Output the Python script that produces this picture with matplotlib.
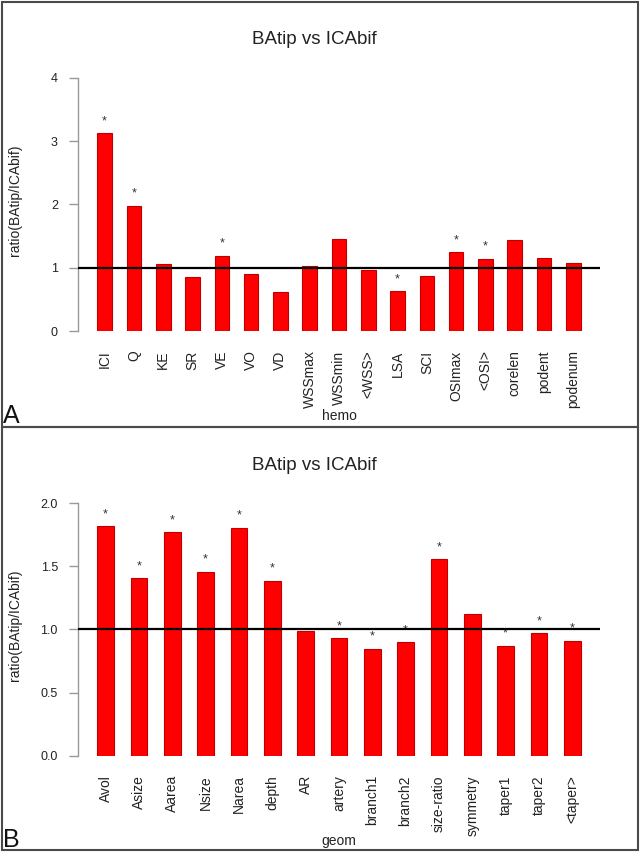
import matplotlib
matplotlib.use("Agg")
import matplotlib.pyplot as plt
from matplotlib.patches import Rectangle

plt.rcParams['font.family'] = ['Liberation Sans', 'DejaVu Sans']

# Panel A data
hemo_labels = ["ICI", "Q", "KE", "SR", "VE", "VO", "VD", "WSSmax", "WSSmin",
               "<WSS>", "LSA", "SCI", "OSImax", "<OSI>", "corelen", "podent", "podenum"]
hemo_values = [3.12, 1.98, 1.06, 0.86, 1.19, 0.905, 0.62, 1.02, 1.45,
               0.97, 0.63, 0.87, 1.24, 1.14, 1.44, 1.16, 1.08]
hemo_sig = [True, True, False, False, True, False, False, False, False,
            False, True, False, True, True, False, False, False]
hemo_yticks = [0, 1, 2, 3, 4]
hemo_yticklabels = ["0", "1", "2", "3", "4"]

# Panel B data
geom_labels = ["Avol", "Asize", "Aarea", "Nsize", "Narea", "depth", "AR", "artery",
               "branch1", "branch2", "size-ratio", "symmetry", "taper1", "taper2", "<taper>"]
geom_values = [1.815, 1.404, 1.77, 1.456, 1.805, 1.385, 0.987, 0.931,
               0.847, 0.897, 1.554, 1.124, 0.871, 0.968, 0.910]
geom_sig = [True, True, True, True, True, True, False, True,
            True, True, True, False, True, True, True]
geom_yticks = [0.0, 0.5, 1.0, 1.5, 2.0]
geom_yticklabels = ["0.0", "0.5", "1.0", "1.5", "2.0"]

W, H = 640, 852
fig = plt.figure(figsize=(W / 100, H / 100), dpi=100)

# panel frames
frame_color = "#4a4a4a"
for (y0, y1) in [(1.5, 426.5), (426.5, 850)]:
    fig.add_artist(Rectangle((1.5 / W, 1 - y1 / H), (638 - 1.5) / W, (y1 - y0) / H,
                             transform=fig.transFigure, fill=False,
                             edgecolor=frame_color, linewidth=1.5))


def panel(ax, labels, values, sig, yticks, yticklabels, xlabel, xlim,
          title_y, xlabel_y, ylabel_y, letter, letter_y):
    n = len(labels)
    x = list(range(n))
    ax.bar(x, values, width=0.5, color="#ff0000", edgecolor="#c00000",
           linewidth=0.8, zorder=2)
    for i, (v, s) in enumerate(zip(values, sig)):
        if s:
            ax.annotate("*", xy=(i, v), xytext=(0, 6.5), textcoords="offset points",
                        ha="center", va="baseline", fontsize=9, color="#333333")
    ax.axhline(1.0, color="black", linewidth=1.6, zorder=3)
    ax.set_xlim(*xlim)
    ax.set_ylim(yticks[0], yticks[-1])
    for sp in ["top", "right", "bottom"]:
        ax.spines[sp].set_visible(False)
    ax.spines["left"].set_color("#999999")
    ax.spines["left"].set_linewidth(1.0)
    ax.spines["left"].set_bounds(yticks[0], yticks[-1])
    ax.set_yticks(yticks)
    ax.set_yticklabels(yticklabels, fontsize=9, color="#222222")
    ax.tick_params(axis="y", length=6.5, width=1.0, color="#999999", pad=8)
    ax.set_xticks(x)
    ax.set_xticklabels(labels, rotation=90, fontsize=10, color="#222222",
                       ha="center", va="top")
    ax.tick_params(axis="x", length=0, pad=14)
    fig.text(15 / W, 1 - ylabel_y / H, "ratio(BAtip/ICAbif)", rotation=90,
             ha="center", va="center", fontsize=10, color="#222222")
    fig.text(314 / W, 1 - title_y / H, "BAtip vs ICAbif", ha="center", va="center",
             fontsize=13.5, color="#222222")
    fig.text(339 / W, 1 - xlabel_y / H, xlabel, ha="center", va="center",
             fontsize=10, color="#222222")
    fig.text(3 / W, 1 - letter_y / H, letter, ha="left", va="baseline",
             fontsize=18, color="#111111")


axA = fig.add_axes([78 / W, 1 - 331 / H, (600 - 78) / W, (331 - 77.7) / H])
panel(axA, hemo_labels, hemo_values, hemo_sig, hemo_yticks, hemo_yticklabels,
      "hemo", (-0.91, 16.91), 40, 416, 200, "A", 423)

axB = fig.add_axes([78 / W, 1 - 755.7 / H, (600 - 78) / W, (755.7 - 503) / H])
panel(axB, geom_labels, geom_values, geom_sig, geom_yticks, geom_yticklabels,
      "geom", (-0.83, 14.83), 466, 841, 625, "B", 847)

fig.savefig("out.png", dpi=100)
